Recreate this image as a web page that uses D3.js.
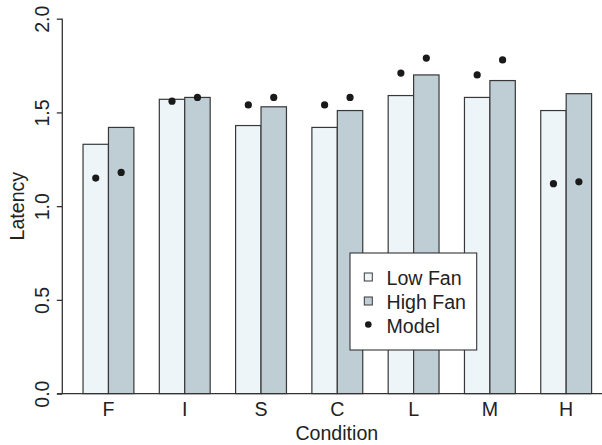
<!DOCTYPE html>
<html>
<head>
<meta charset="utf-8">
<script src="https://cdn.jsdelivr.net/npm/d3@7"></script>
<style>
  body { margin: 0; background: #fff; }
  text { font-family: "Liberation Sans", Arial, sans-serif; fill: #222; }
</style>
</head>
<body>
<svg id="chart" width="602" height="445"></svg>
<script>
const categories = ["F", "I", "S", "C", "L", "M", "H"];
const lowFan = [1.33, 1.57, 1.43, 1.42, 1.59, 1.58, 1.51];
const highFan = [1.42, 1.58, 1.53, 1.51, 1.70, 1.67, 1.60];
const modelLow = [1.15, 1.56, 1.54, 1.54, 1.71, 1.70, 1.12];
const modelHigh = [1.18, 1.58, 1.58, 1.58, 1.79, 1.78, 1.13];
const yTicks = [0, 0.5, 1, 1.5, 2];

const lowColor = "#edf5f8";
const highColor = "#bfcdd5";
const edge = "#383838";
const fontSize = 19.6;

const svg = d3.select("#chart");

// bar units like R's barplot: each group = 1 space + 2 bars
const x = d3.scaleLinear().domain([0, 21]).range([57.6, 591.6]);
const y = d3.scaleLinear().domain([0, 2]).range([393.6, 18.7]);
const bw = x(1) - x(0);

const bars = [];
categories.forEach((c, i) => {
  const start = 3 * i + 1;
  bars.push({ u: start, v: lowFan[i], m: modelLow[i], fill: lowColor });
  bars.push({ u: start + 1, v: highFan[i], m: modelHigh[i], fill: highColor });
});

svg.selectAll("rect.bar")
  .data(bars)
  .enter()
  .append("rect")
  .attr("class", "bar")
  .attr("x", d => x(d.u))
  .attr("y", d => y(d.v))
  .attr("width", bw)
  .attr("height", d => y(0) - y(d.v))
  .attr("fill", d => d.fill)
  .attr("stroke", edge)
  .attr("stroke-width", 1.2);

// model points
svg.selectAll("circle.model")
  .data(bars)
  .enter()
  .append("circle")
  .attr("class", "model")
  .attr("cx", d => x(d.u + 0.5))
  .attr("cy", d => y(d.m))
  .attr("r", 3.6)
  .attr("fill", "#1a1a1a");

// baseline
svg.append("line")
  .attr("x1", 57).attr("x2", 602)
  .attr("y1", y(0)).attr("y2", y(0))
  .attr("stroke", "#333").attr("stroke-width", 1.3);

// y axis
const yAxis = svg.append("g")
  .attr("transform", "translate(62.3,0)")
  .call(d3.axisLeft(y).tickValues(yTicks).tickSize(5.5).tickFormat(d3.format(".1f")));
yAxis.select(".domain")
  .attr("d", "M0," + y(2) + "V" + y(0))
  .attr("stroke", "#333").attr("stroke-width", 1.3);
yAxis.selectAll(".tick line").attr("stroke", "#333").attr("stroke-width", 1.3);
yAxis.selectAll(".tick text")
  .attr("x", null).attr("dy", null)
  .attr("transform", "translate(-13,0) rotate(-90)")
  .attr("text-anchor", "middle")
  .style("font-size", fontSize + "px")
  .style("font-family", "Liberation Sans, Arial, sans-serif")
  .attr("fill", "#222");

// category labels
svg.selectAll("text.cat")
  .data(categories)
  .enter()
  .append("text")
  .attr("class", "cat")
  .attr("x", (d, i) => x(3 * i + 2))
  .attr("y", 415.5)
  .attr("text-anchor", "middle")
  .style("font-size", fontSize + "px")
  .text(d => d);

// axis titles
svg.append("text")
  .attr("x", (x(0) + 602) / 2 + 7)
  .attr("y", 440)
  .attr("text-anchor", "middle")
  .style("font-size", fontSize + "px")
  .text("Condition");

svg.append("text")
  .attr("transform", "translate(24," + ((y(0) + y(2)) / 2) + ") rotate(-90)")
  .attr("text-anchor", "middle")
  .style("font-size", fontSize + "px")
  .text("Latency");

// legend
const legend = svg.append("g").attr("transform", "translate(350,253)");
legend.append("rect")
  .attr("width", 126.7).attr("height", 97)
  .attr("fill", "#fff").attr("stroke", "#333").attr("stroke-width", 1.1);

const legendItems = [
  { label: "Low Fan", fill: lowColor, kind: "box" },
  { label: "High Fan", fill: highColor, kind: "box" },
  { label: "Model", fill: "#1a1a1a", kind: "dot" }
];
const rowY = i => 24 + i * 24;

legendItems.forEach((d, i) => {
  if (d.kind === "box") {
    legend.append("rect")
      .attr("x", 14.3).attr("y", rowY(i) - 4)
      .attr("width", 8).attr("height", 8)
      .attr("fill", d.fill).attr("stroke", edge).attr("stroke-width", 1);
  } else {
    legend.append("circle")
      .attr("cx", 18.3).attr("cy", rowY(i) - 0.5)
      .attr("r", 3.3).attr("fill", d.fill);
  }
  legend.append("text")
    .attr("x", 36.5).attr("y", rowY(i) + 7.5)
    .style("font-size", fontSize + "px")
    .text(d.label);
});
</script>
</body>
</html>
